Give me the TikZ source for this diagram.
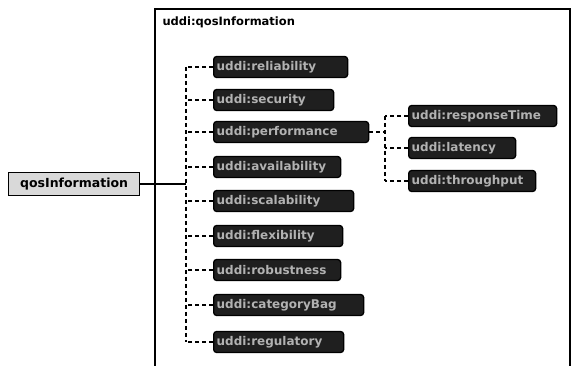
\documentclass[tikz,border=0pt]{standalone}
\usepackage{fontspec}
\setmainfont{DejaVu Sans}
\begin{document}
\begin{tikzpicture}[x=1pt,y=-1pt,
  elem/.style={draw=black, fill=black!88, text=black!30, font=\bfseries\fontsize{12}{13}\selectfont,
    rounded corners=3pt, minimum height=21pt, inner xsep=3pt, inner ysep=2pt, anchor=west,
    line width=1.3pt, align=left, text width=#1-6pt},
  root/.style={draw=black, fill=black!15, text=black, font=\bfseries\fontsize{12.5}{14}\selectfont,
    minimum height=23pt, minimum width=131pt, inner sep=2pt, anchor=west, line width=1.3pt},
  dline/.style={dashed, dash pattern=on 4pt off 3pt, line width=1.2pt},
  solidline/.style={line width=1.3pt}]
\useasboundingbox (0,0) rectangle (576,366);
% outer frame
\draw[line width=1.3pt] (155,366) -- (155,9) -- (570,9) -- (570,366);
\node[anchor=west, font=\bfseries\fontsize{11.5}{13}\selectfont] (title) at (159,22) {uddi:qosInformation};
% root
\node[root] (qos) at (8,184) {qosInformation};
\coordinate (j) at (186,184);
\draw[solidline] (qos.east) -- (j);
% children
\node[elem=134pt] (c1) at (213,67) {uddi:reliability};
\node[elem=120pt] (c2) at (213,100) {uddi:security};
\node[elem=155pt] (c3) at (213,132) {uddi:performance};
\node[elem=127pt] (c4) at (213,167) {uddi:availability};
\node[elem=140pt] (c5) at (213,201) {uddi:scalability};
\node[elem=129pt] (c6) at (213,236) {uddi:flexibility};
\node[elem=127pt] (c7) at (213,270) {uddi:robustness};
\node[elem=150pt] (c8) at (213,305) {uddi:categoryBag};
\node[elem=130pt] (c9) at (213,342) {uddi:regulatory};
\coordinate (vt) at (186,67);
\coordinate (vb) at (186,342);
\draw[dline] (vt) -- (vb);
\foreach \n in {c1,c2,c3,c4,c5,c6,c7,c8,c9}
  \draw[dline] (\n.west) -- (\n.west -| j);
% performance sub
\node[elem=148pt] (p1) at (408,116) {uddi:responseTime};
\node[elem=107pt] (p2) at (408,148) {uddi:latency};
\node[elem=127pt] (p3) at (408,181) {uddi:throughput};
\coordinate (pj) at (385,132);
\draw[dline] (c3.east) -- (pj);
\draw[dline] (p1.west -| pj) -- (p3.west -| pj);
\foreach \n in {p1,p2,p3}
  \draw[dline] (\n.west) -- (\n.west -| pj);
\end{tikzpicture}
\end{document}
